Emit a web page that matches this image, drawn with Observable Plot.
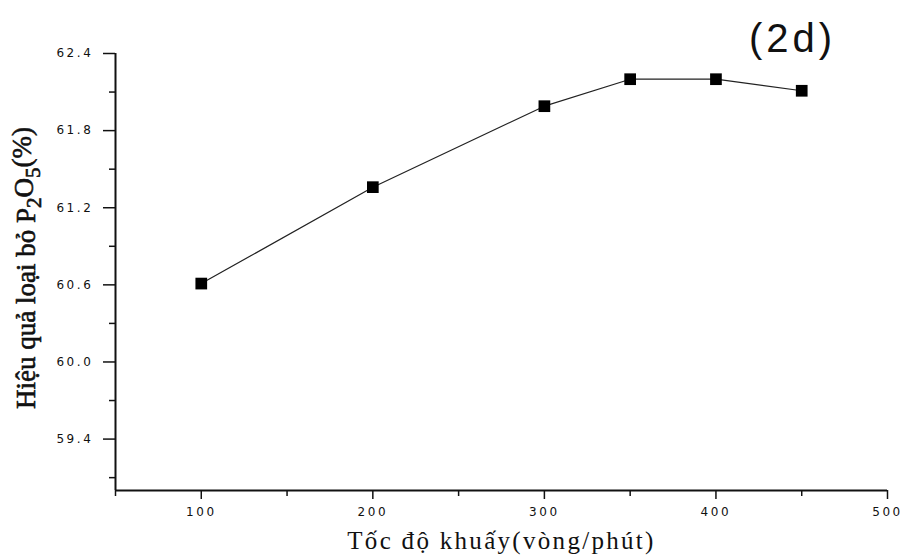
<!DOCTYPE html>
<html>
<head>
<meta charset="utf-8">
<script src="https://cdn.jsdelivr.net/npm/d3@7"></script>
<script src="https://cdn.jsdelivr.net/npm/@observablehq/plot@0.6"></script>
<style>
  body { margin: 0; background: #fff; }
  .chart g[aria-label="y-axis tick label"] text,
  .chart g[aria-label="x-axis tick label"] text { letter-spacing: 2.6px; }
  .xtitle text { letter-spacing: 2.3px; }
  .paneltag text { letter-spacing: 4px; }
</style>
</head>
<body>
<div id="chart"></div>
<script>
// Stirring speed (rpm) and P2O5 removal efficiency (%)
const speeds = [100, 200, 300, 350, 400, 450];
const efficiency = [60.61, 61.36, 61.99, 62.2, 62.2, 62.11];

// Axis ticks
const yMajor = [59.4, 60.0, 60.6, 61.2, 61.8, 62.4];
const yMinor = [59.1, 59.7, 60.3, 60.9, 61.5, 62.1];
const xMajor = [100, 200, 300, 400, 500];
const xMinor = [50, 150, 250, 350, 450];

// Texts
const xTitle = "Tốc độ khuấy(vòng/phút)";
const yTitleParts = [["Hiệu quả loại bỏ P", false], ["2", true], ["O", false], ["5", true], ["(%)", false]];
const panelTag = "(2d)";

const rows = speeds.map((s, i) => ({speed: s, eff: efficiency[i]}));

const tickFont = "DejaVu Sans, sans-serif";

const chart = Plot.plot({
  width: 904,
  height: 556,
  marginLeft: 115,
  marginRight: 17,
  marginTop: 53,
  marginBottom: 66,
  className: "chart",
  style: {background: "#fff", color: "#111"},
  x: {domain: [50, 500]},
  y: {domain: [59.0, 62.4]},
  marks: [
    Plot.axisY(yMajor, {tickSize: 12, tickPadding: 10, tickFormat: d3.format(".1f"),
      fontSize: 12, fontFamily: tickFont, label: null, strokeWidth: 1.5, fill: "#111"}),
    Plot.axisY(yMinor, {tickSize: 6, text: null, label: null, strokeWidth: 1.5}),
    Plot.axisX(xMajor, {tickSize: 9, tickPadding: 8, tickFormat: d3.format("d"),
      fontSize: 12, fontFamily: tickFont, label: null, strokeWidth: 1.5, fill: "#111"}),
    Plot.axisX(xMinor, {tickSize: 6, text: null, label: null, strokeWidth: 1.5}),
    Plot.ruleX([50], {strokeWidth: 2, stroke: "#111"}),
    Plot.ruleY([59.0], {strokeWidth: 2, stroke: "#111"}),
    Plot.line(rows, {x: "speed", y: "eff", stroke: "#222", strokeWidth: 1.2}),
    Plot.dot(rows, {x: "speed", y: "eff", symbol: "square", r: 6.6, fill: "#000", stroke: "none"}),
    Plot.text([xTitle], {frameAnchor: "bottom", dy: 50, textAnchor: "middle", lineAnchor: "middle",
      fontSize: 25, fontFamily: "Liberation Serif, serif", fill: "#111", className: "xtitle"}),
    Plot.text([panelTag], {frameAnchor: "top-right", dx: -95, dy: -14, textAnchor: "middle", lineAnchor: "middle",
      fontSize: 40, fontFamily: "Liberation Sans, Arial, sans-serif", fill: "#111", className: "paneltag"})
  ]
});

// Vertical axis title with chemical subscripts
const ytitle = d3.select(chart).append("text")
  .attr("transform", "translate(35,268) rotate(-90)")
  .attr("text-anchor", "middle")
  .attr("font-family", "Liberation Serif, serif")
  .attr("font-size", 27)
  .attr("stroke", "#111")
  .attr("stroke-width", 0.6)
  .attr("fill", "#111");
let shifted = false;
for (const [t, sub] of yTitleParts) {
  const span = ytitle.append("tspan").text(t);
  if (sub && !shifted) { span.attr("dy", "0.3em").attr("font-size", 21); shifted = true; }
  else if (sub) { span.attr("font-size", 21); }
  else if (shifted) { span.attr("dy", "-0.3em"); shifted = false; }
}

document.getElementById("chart").appendChild(chart);
</script>
</body>
</html>
